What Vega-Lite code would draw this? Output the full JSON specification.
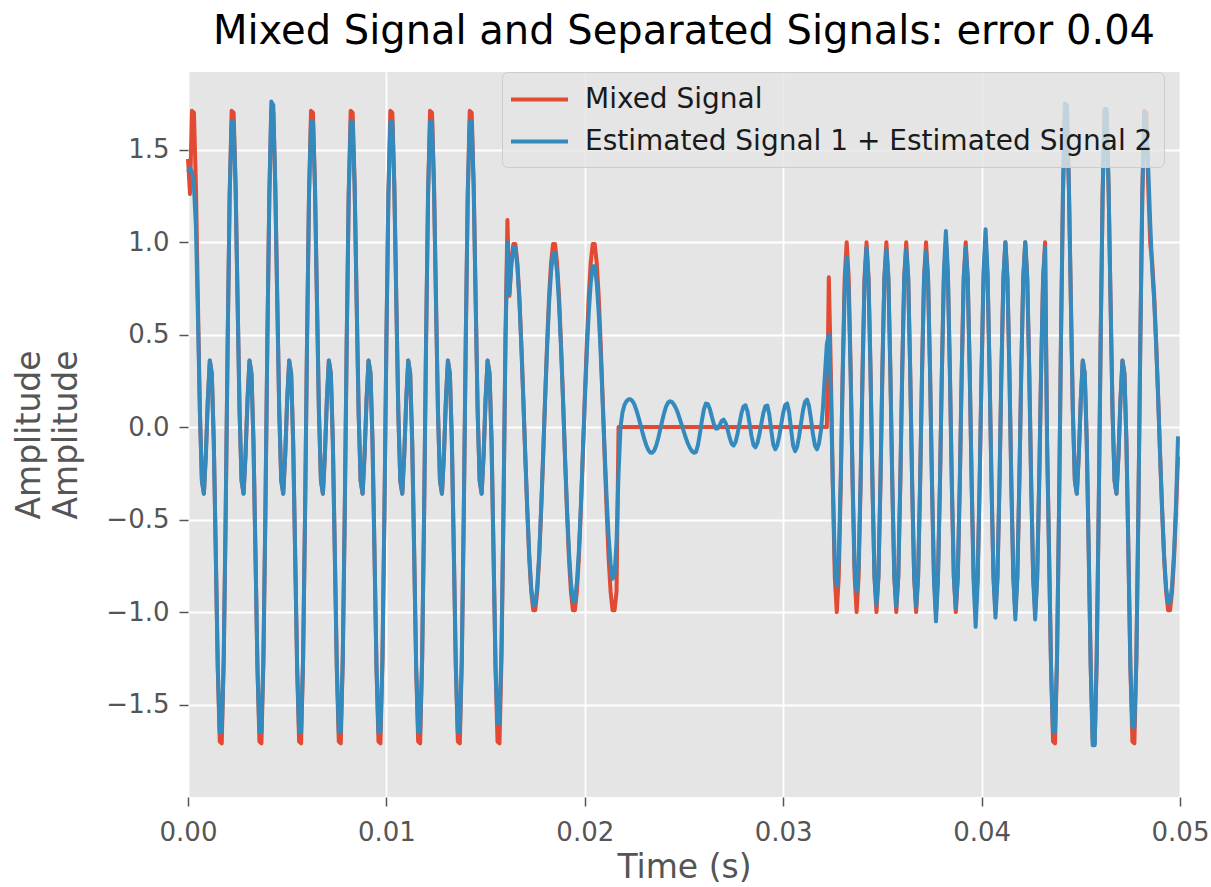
{
"$schema":"https://vega.github.io/schema/vega-lite/v6.json",
"width":992,"height":725,
"autosize":{"type":"none"},
"padding":{"left":188,"top":72,"right":31,"bottom":90},
"background":"#FFFFFF",
"title":{"text":"Mixed Signal and Separated Signals: error 0.04","fontSize":40,"font":"DejaVu Sans","fontWeight":"normal","color":"#000000","offset":20,"anchor":"middle","frame":"group"},
"config":{"view":{"fill":"#E5E5E5","stroke":null},"font":"DejaVu Sans",
"axis":{"labelFont":"DejaVu Sans","labelFontSize":26,"labelColor":"#555555","tickColor":"#555555","tickSize":9,"tickWidth":1.5,"domain":false,"gridColor":"#FFFFFF","gridWidth":1.8,"gridOpacity":1,"titleFont":"DejaVu Sans","titleFontSize":33,"titleColor":"#555555","titleFontWeight":"normal"}},
"data":{"values":[
{"t":0,"m":1.45,"e":1.38},{"t":0.0001,"m":1.26,"e":1.4},{"t":0.0002,"m":1.71,"e":1.38},{"t":0.0003,"m":1.7,"e":1.3},{"t":0.0004,"m":1.3,"e":1.08},{"t":0.0005,"m":0.68,"e":0.6},{"t":0.0006,"m":0.08,"e":0.08},{"t":0.0007,"m":-0.29,"e":-0.29},{"t":0.0008,"m":-0.36,"e":-0.36},{"t":0.0009,"m":-0.15,"e":-0.15},
{"t":0.001,"m":0.15,"e":0.15},{"t":0.0011,"m":0.36,"e":0.36},{"t":0.0012,"m":0.29,"e":0.29},{"t":0.0013,"m":-0.08,"e":-0.08},{"t":0.0014,"m":-0.68,"e":-0.68},{"t":0.0015,"m":-1.3,"e":-1.3},{"t":0.0016,"m":-1.7,"e":-1.65},{"t":0.0017,"m":-1.71,"e":-1.65},{"t":0.0018,"m":-1.26,"e":-1.26},{"t":0.0019,"m":-0.47,"e":-0.47},
{"t":0.002,"m":0.47,"e":0.47},{"t":0.0021,"m":1.26,"e":1.26},{"t":0.0022,"m":1.71,"e":1.65},{"t":0.0023,"m":1.7,"e":1.65},{"t":0.0024,"m":1.3,"e":1.3},{"t":0.0025,"m":0.68,"e":0.68},{"t":0.0026,"m":0.08,"e":0.08},{"t":0.0027,"m":-0.29,"e":-0.29},{"t":0.0028,"m":-0.36,"e":-0.36},{"t":0.0029,"m":-0.15,"e":-0.15},
{"t":0.003,"m":0.15,"e":0.15},{"t":0.0031,"m":0.36,"e":0.36},{"t":0.0032,"m":0.29,"e":0.29},{"t":0.0033,"m":-0.08,"e":-0.08},{"t":0.0034,"m":-0.68,"e":-0.68},{"t":0.0035,"m":-1.3,"e":-1.3},{"t":0.0036,"m":-1.7,"e":-1.65},{"t":0.0037,"m":-1.71,"e":-1.65},{"t":0.0038,"m":-1.26,"e":-1.26},{"t":0.0039,"m":-0.47,"e":-0.47},
{"t":0.004,"m":0.47,"e":0.47},{"t":0.0041,"m":1.26,"e":1.26},{"t":0.0042,"m":1.71,"e":1.76},{"t":0.0043,"m":1.7,"e":1.74},{"t":0.0044,"m":1.3,"e":1.3},{"t":0.0045,"m":0.68,"e":0.68},{"t":0.0046,"m":0.08,"e":0.08},{"t":0.0047,"m":-0.29,"e":-0.29},{"t":0.0048,"m":-0.36,"e":-0.36},{"t":0.0049,"m":-0.15,"e":-0.15},
{"t":0.005,"m":0.15,"e":0.15},{"t":0.0051,"m":0.36,"e":0.36},{"t":0.0052,"m":0.29,"e":0.29},{"t":0.0053,"m":-0.08,"e":-0.08},{"t":0.0054,"m":-0.68,"e":-0.68},{"t":0.0055,"m":-1.3,"e":-1.3},{"t":0.0056,"m":-1.7,"e":-1.65},{"t":0.0057,"m":-1.71,"e":-1.65},{"t":0.0058,"m":-1.26,"e":-1.26},{"t":0.0059,"m":-0.47,"e":-0.47},
{"t":0.006,"m":0.47,"e":0.47},{"t":0.0061,"m":1.26,"e":1.26},{"t":0.0062,"m":1.71,"e":1.65},{"t":0.0063,"m":1.7,"e":1.65},{"t":0.0064,"m":1.3,"e":1.3},{"t":0.0065,"m":0.68,"e":0.68},{"t":0.0066,"m":0.08,"e":0.08},{"t":0.0067,"m":-0.29,"e":-0.29},{"t":0.0068,"m":-0.36,"e":-0.36},{"t":0.0069,"m":-0.15,"e":-0.15},
{"t":0.007,"m":0.15,"e":0.15},{"t":0.0071,"m":0.36,"e":0.36},{"t":0.0072,"m":0.29,"e":0.29},{"t":0.0073,"m":-0.08,"e":-0.08},{"t":0.0074,"m":-0.68,"e":-0.68},{"t":0.0075,"m":-1.3,"e":-1.3},{"t":0.0076,"m":-1.7,"e":-1.65},{"t":0.0077,"m":-1.71,"e":-1.65},{"t":0.0078,"m":-1.26,"e":-1.26},{"t":0.0079,"m":-0.47,"e":-0.47},
{"t":0.008,"m":0.47,"e":0.47},{"t":0.0081,"m":1.26,"e":1.26},{"t":0.0082,"m":1.71,"e":1.65},{"t":0.0083,"m":1.7,"e":1.65},{"t":0.0084,"m":1.3,"e":1.3},{"t":0.0085,"m":0.68,"e":0.68},{"t":0.0086,"m":0.08,"e":0.08},{"t":0.0087,"m":-0.29,"e":-0.29},{"t":0.0088,"m":-0.36,"e":-0.36},{"t":0.0089,"m":-0.15,"e":-0.15},
{"t":0.009,"m":0.15,"e":0.15},{"t":0.0091,"m":0.36,"e":0.36},{"t":0.0092,"m":0.29,"e":0.29},{"t":0.0093,"m":-0.08,"e":-0.08},{"t":0.0094,"m":-0.68,"e":-0.68},{"t":0.0095,"m":-1.3,"e":-1.3},{"t":0.0096,"m":-1.7,"e":-1.65},{"t":0.0097,"m":-1.71,"e":-1.65},{"t":0.0098,"m":-1.26,"e":-1.26},{"t":0.0099,"m":-0.47,"e":-0.47},
{"t":0.01,"m":0.47,"e":0.47},{"t":0.0101,"m":1.26,"e":1.26},{"t":0.0102,"m":1.71,"e":1.65},{"t":0.0103,"m":1.7,"e":1.65},{"t":0.0104,"m":1.3,"e":1.3},{"t":0.0105,"m":0.68,"e":0.68},{"t":0.0106,"m":0.08,"e":0.08},{"t":0.0107,"m":-0.29,"e":-0.29},{"t":0.0108,"m":-0.36,"e":-0.36},{"t":0.0109,"m":-0.15,"e":-0.15},
{"t":0.011,"m":0.15,"e":0.15},{"t":0.0111,"m":0.36,"e":0.36},{"t":0.0112,"m":0.29,"e":0.29},{"t":0.0113,"m":-0.08,"e":-0.08},{"t":0.0114,"m":-0.68,"e":-0.68},{"t":0.0115,"m":-1.3,"e":-1.3},{"t":0.0116,"m":-1.7,"e":-1.65},{"t":0.0117,"m":-1.71,"e":-1.65},{"t":0.0118,"m":-1.26,"e":-1.26},{"t":0.0119,"m":-0.47,"e":-0.47},
{"t":0.012,"m":0.47,"e":0.47},{"t":0.0121,"m":1.26,"e":1.26},{"t":0.0122,"m":1.71,"e":1.65},{"t":0.0123,"m":1.7,"e":1.65},{"t":0.0124,"m":1.3,"e":1.3},{"t":0.0125,"m":0.68,"e":0.68},{"t":0.0126,"m":0.08,"e":0.08},{"t":0.0127,"m":-0.29,"e":-0.29},{"t":0.0128,"m":-0.36,"e":-0.36},{"t":0.0129,"m":-0.15,"e":-0.15},
{"t":0.013,"m":0.15,"e":0.15},{"t":0.0131,"m":0.36,"e":0.36},{"t":0.0132,"m":0.29,"e":0.29},{"t":0.0133,"m":-0.08,"e":-0.08},{"t":0.0134,"m":-0.68,"e":-0.68},{"t":0.0135,"m":-1.3,"e":-1.3},{"t":0.0136,"m":-1.7,"e":-1.65},{"t":0.0137,"m":-1.71,"e":-1.65},{"t":0.0138,"m":-1.26,"e":-1.26},{"t":0.0139,"m":-0.47,"e":-0.47},
{"t":0.014,"m":0.47,"e":0.47},{"t":0.0141,"m":1.26,"e":1.26},{"t":0.0142,"m":1.71,"e":1.65},{"t":0.0143,"m":1.7,"e":1.65},{"t":0.0144,"m":1.3,"e":1.3},{"t":0.0145,"m":0.68,"e":0.68},{"t":0.0146,"m":0.08,"e":0.08},{"t":0.0147,"m":-0.29,"e":-0.29},{"t":0.0148,"m":-0.36,"e":-0.36},{"t":0.0149,"m":-0.15,"e":-0.15},
{"t":0.015,"m":0.15,"e":0.15},{"t":0.0151,"m":0.36,"e":0.36},{"t":0.0152,"m":0.29,"e":0.29},{"t":0.0153,"m":-0.08,"e":-0.08},{"t":0.0154,"m":-0.68,"e":-0.68},{"t":0.0155,"m":-1.3,"e":-1.3},{"t":0.0156,"m":-1.7,"e":-1.6},{"t":0.0157,"m":-1.71,"e":-1.6},{"t":0.0158,"m":-1.26,"e":-1.2},{"t":0.0159,"m":-0.47,"e":-0.45},
{"t":0.016,"m":0.47,"e":0.45},{"t":0.0161,"m":1.12,"e":1.0},{"t":0.0162,"m":0.71,"e":0.72},{"t":0.0163,"m":0.89,"e":0.88},{"t":0.0164,"m":0.99,"e":0.97},{"t":0.0165,"m":0.99,"e":0.97},{"t":0.0166,"m":0.89,"e":0.87},{"t":0.0167,"m":0.71,"e":0.69},{"t":0.0168,"m":0.45,"e":0.44},{"t":0.0169,"m":0.16,"e":0.15},
{"t":0.017,"m":-0.16,"e":-0.15},{"t":0.0171,"m":-0.45,"e":-0.44},{"t":0.0172,"m":-0.71,"e":-0.69},{"t":0.0173,"m":-0.89,"e":-0.87},{"t":0.0174,"m":-0.99,"e":-0.96},{"t":0.0175,"m":-0.99,"e":-0.96},{"t":0.0176,"m":-0.89,"e":-0.87},{"t":0.0177,"m":-0.71,"e":-0.69},{"t":0.0178,"m":-0.45,"e":-0.44},{"t":0.0179,"m":-0.16,"e":-0.15},
{"t":0.018,"m":0.16,"e":0.15},{"t":0.0181,"m":0.45,"e":0.43},{"t":0.0182,"m":0.71,"e":0.67},{"t":0.0183,"m":0.89,"e":0.84},{"t":0.0184,"m":0.99,"e":0.94},{"t":0.0185,"m":0.99,"e":0.94},{"t":0.0186,"m":0.89,"e":0.84},{"t":0.0187,"m":0.71,"e":0.67},{"t":0.0188,"m":0.45,"e":0.43},{"t":0.0189,"m":0.16,"e":0.15},
{"t":0.019,"m":-0.16,"e":-0.15},{"t":0.0191,"m":-0.45,"e":-0.43},{"t":0.0192,"m":-0.71,"e":-0.67},{"t":0.0193,"m":-0.89,"e":-0.84},{"t":0.0194,"m":-0.99,"e":-0.94},{"t":0.0195,"m":-0.99,"e":-0.94},{"t":0.0196,"m":-0.89,"e":-0.84},{"t":0.0197,"m":-0.71,"e":-0.67},{"t":0.0198,"m":-0.45,"e":-0.43},{"t":0.0199,"m":-0.16,"e":-0.14},
{"t":0.02,"m":0.16,"e":0.14},{"t":0.0201,"m":0.45,"e":0.4},{"t":0.0202,"m":0.71,"e":0.62},{"t":0.0203,"m":0.89,"e":0.78},{"t":0.0204,"m":0.99,"e":0.87},{"t":0.0205,"m":0.99,"e":0.87},{"t":0.0206,"m":0.89,"e":0.78},{"t":0.0207,"m":0.71,"e":0.62},{"t":0.0208,"m":0.45,"e":0.4},{"t":0.0209,"m":0.16,"e":0.13},
{"t":0.021,"m":-0.16,"e":-0.13},{"t":0.0211,"m":-0.45,"e":-0.38},{"t":0.0212,"m":-0.71,"e":-0.59},{"t":0.0213,"m":-0.89,"e":-0.74},{"t":0.0214,"m":-0.99,"e":-0.82},{"t":0.0215,"m":-0.99,"e":-0.8},{"t":0.0216,"m":-0.89,"e":-0.62},{"t":0.0217,"m":0,"e":-0.25},{"t":0.0218,"m":0,"e":0},{"t":0.0219,"m":0,"e":0.08},
{"t":0.022,"m":0,"e":0.12},{"t":0.0221,"m":0,"e":0.14},{"t":0.0222,"m":0,"e":0.15},{"t":0.0223,"m":0,"e":0.15},{"t":0.0224,"m":0,"e":0.141},{"t":0.0225,"m":0,"e":0.122},{"t":0.0226,"m":0,"e":0.092},{"t":0.0227,"m":0,"e":0.056},{"t":0.0228,"m":0,"e":0.015},{"t":0.0229,"m":0,"e":-0.026},
{"t":0.023,"m":0,"e":-0.065},{"t":0.0231,"m":0,"e":-0.098},{"t":0.0232,"m":0,"e":-0.123},{"t":0.0233,"m":0,"e":-0.137},{"t":0.0234,"m":0,"e":-0.139},{"t":0.0235,"m":0,"e":-0.126},{"t":0.0236,"m":0,"e":-0.099},{"t":0.0237,"m":0,"e":-0.06},{"t":0.0238,"m":0,"e":-0.014},{"t":0.0239,"m":0,"e":0.033},
{"t":0.024,"m":0,"e":0.077},{"t":0.0241,"m":0,"e":0.112},{"t":0.0242,"m":0,"e":0.133},{"t":0.0243,"m":0,"e":0.14},{"t":0.0244,"m":0,"e":0.135},{"t":0.0245,"m":0,"e":0.121},{"t":0.0246,"m":0,"e":0.1},{"t":0.0247,"m":0,"e":0.073},{"t":0.0248,"m":0,"e":0.041},{"t":0.0249,"m":0,"e":0.007},
{"t":0.025,"m":0,"e":-0.028},{"t":0.0251,"m":0,"e":-0.061},{"t":0.0252,"m":0,"e":-0.09},{"t":0.0253,"m":0,"e":-0.113},{"t":0.0254,"m":0,"e":-0.13},{"t":0.0255,"m":0,"e":-0.139},{"t":0.0256,"m":0,"e":-0.135},{"t":0.0257,"m":0,"e":-0.099},{"t":0.0258,"m":0,"e":-0.037},{"t":0.0259,"m":0,"e":0.034},
{"t":0.026,"m":0,"e":0.094},{"t":0.0261,"m":0,"e":0.127},{"t":0.0262,"m":0,"e":0.125},{"t":0.0263,"m":0,"e":0.099},{"t":0.0264,"m":0,"e":0.058},{"t":0.0265,"m":0,"e":0.018},{"t":0.0266,"m":0,"e":-0.007},{"t":0.0267,"m":0,"e":-0.007},{"t":0.0268,"m":0,"e":0.011},{"t":0.0269,"m":0,"e":0.033},
{"t":0.027,"m":0,"e":0.04},{"t":0.0271,"m":0,"e":0.022},{"t":0.0272,"m":0,"e":-0.015},{"t":0.0273,"m":0,"e":-0.057},{"t":0.0274,"m":0,"e":-0.09},{"t":0.0275,"m":0,"e":-0.1},{"t":0.0276,"m":0,"e":-0.081},{"t":0.0277,"m":0,"e":-0.036},{"t":0.0278,"m":0,"e":0.022},{"t":0.0279,"m":0,"e":0.077},
{"t":0.028,"m":0,"e":0.112},{"t":0.0281,"m":0,"e":0.118},{"t":0.0282,"m":0,"e":0.085},{"t":0.0283,"m":0,"e":0.023},{"t":0.0284,"m":0,"e":-0.046},{"t":0.0285,"m":0,"e":-0.096},{"t":0.0286,"m":0,"e":-0.109},{"t":0.0287,"m":0,"e":-0.087},{"t":0.0288,"m":0,"e":-0.04},{"t":0.0289,"m":0,"e":0.02},
{"t":0.029,"m":0,"e":0.076},{"t":0.0291,"m":0,"e":0.112},{"t":0.0292,"m":0,"e":0.117},{"t":0.0293,"m":0,"e":0.068},{"t":0.0294,"m":0,"e":-0.018},{"t":0.0295,"m":0,"e":-0.094},{"t":0.0296,"m":0,"e":-0.12},{"t":0.0297,"m":0,"e":-0.099},{"t":0.0298,"m":0,"e":-0.05},{"t":0.0299,"m":0,"e":0.015},
{"t":0.03,"m":0,"e":0.077},{"t":0.0301,"m":0,"e":0.119},{"t":0.0302,"m":0,"e":0.128},{"t":0.0303,"m":0,"e":0.079},{"t":0.0304,"m":0,"e":-0.015},{"t":0.0305,"m":0,"e":-0.1},{"t":0.0306,"m":0,"e":-0.13},{"t":0.0307,"m":0,"e":-0.107},{"t":0.0308,"m":0,"e":-0.051},{"t":0.0309,"m":0,"e":0.021},
{"t":0.031,"m":0,"e":0.091},{"t":0.0311,"m":0,"e":0.137},{"t":0.0312,"m":0,"e":0.149},{"t":0.0313,"m":0,"e":0.115},{"t":0.0314,"m":0,"e":0.044},{"t":0.0315,"m":0,"e":-0.038},{"t":0.0316,"m":0,"e":-0.1},{"t":0.0317,"m":0,"e":-0.12},{"t":0.0318,"m":0,"e":-0.09},{"t":0.0319,"m":0,"e":-0.02},
{"t":0.032,"m":0,"e":0.1},{"t":0.0321,"m":0,"e":0.28},{"t":0.0322,"m":0,"e":0.45},{"t":0.0323,"m":0.81,"e":0.5},{"t":0.0324,"m":0.31,"e":0.2},{"t":0.0325,"m":-0.31,"e":-0.3},{"t":0.0326,"m":-0.81,"e":-0.72},{"t":0.0327,"m":-1,"e":-0.86},{"t":0.0328,"m":-0.81,"e":-0.72},{"t":0.0329,"m":-0.31,"e":-0.28},
{"t":0.033,"m":0.31,"e":0.28},{"t":0.0331,"m":0.81,"e":0.74},{"t":0.0332,"m":1,"e":0.92},{"t":0.0333,"m":0.81,"e":0.74},{"t":0.0334,"m":0.31,"e":0.28},{"t":0.0335,"m":-0.31,"e":-0.29},{"t":0.0336,"m":-0.81,"e":-0.76},{"t":0.0337,"m":-1,"e":-0.89},{"t":0.0338,"m":-0.81,"e":-0.76},{"t":0.0339,"m":-0.31,"e":-0.29},
{"t":0.034,"m":0.31,"e":0.29},{"t":0.0341,"m":0.81,"e":0.79},{"t":0.0342,"m":1,"e":0.97},{"t":0.0343,"m":0.81,"e":0.8},{"t":0.0344,"m":0.31,"e":0.31},{"t":0.0345,"m":-0.31,"e":-0.31},{"t":0.0346,"m":-0.81,"e":-0.81},{"t":0.0347,"m":-1,"e":-0.96},{"t":0.0348,"m":-0.81,"e":-0.81},{"t":0.0349,"m":-0.31,"e":-0.31},
{"t":0.035,"m":0.31,"e":0.31},{"t":0.0351,"m":0.81,"e":0.81},{"t":0.0352,"m":1,"e":0.96},{"t":0.0353,"m":0.81,"e":0.81},{"t":0.0354,"m":0.31,"e":0.31},{"t":0.0355,"m":-0.31,"e":-0.31},{"t":0.0356,"m":-0.81,"e":-0.81},{"t":0.0357,"m":-1,"e":-0.97},{"t":0.0358,"m":-0.81,"e":-0.81},{"t":0.0359,"m":-0.31,"e":-0.31},
{"t":0.036,"m":0.31,"e":0.31},{"t":0.0361,"m":0.81,"e":0.81},{"t":0.0362,"m":1,"e":0.96},{"t":0.0363,"m":0.81,"e":0.81},{"t":0.0364,"m":0.31,"e":0.31},{"t":0.0365,"m":-0.31,"e":-0.31},{"t":0.0366,"m":-0.81,"e":-0.81},{"t":0.0367,"m":-1,"e":-0.97},{"t":0.0368,"m":-0.81,"e":-0.81},{"t":0.0369,"m":-0.31,"e":-0.31},
{"t":0.037,"m":0.31,"e":0.31},{"t":0.0371,"m":0.81,"e":0.81},{"t":0.0372,"m":1,"e":0.95},{"t":0.0373,"m":0.81,"e":0.81},{"t":0.0374,"m":0.31,"e":0.31},{"t":0.0375,"m":-0.31,"e":-0.31},{"t":0.0376,"m":-0.81,"e":-0.83},{"t":0.0377,"m":-1,"e":-1.05},{"t":0.0378,"m":-0.81,"e":-0.83},{"t":0.0379,"m":-0.31,"e":-0.31},
{"t":0.038,"m":0.31,"e":0.31},{"t":0.0381,"m":0.81,"e":0.84},{"t":0.0382,"m":1,"e":1.06},{"t":0.0383,"m":0.81,"e":0.84},{"t":0.0384,"m":0.31,"e":0.31},{"t":0.0385,"m":-0.31,"e":-0.31},{"t":0.0386,"m":-0.81,"e":-0.81},{"t":0.0387,"m":-1,"e":-0.98},{"t":0.0388,"m":-0.81,"e":-0.81},{"t":0.0389,"m":-0.31,"e":-0.31},
{"t":0.039,"m":0.31,"e":0.31},{"t":0.0391,"m":0.81,"e":0.81},{"t":0.0392,"m":1,"e":0.97},{"t":0.0393,"m":0.81,"e":0.81},{"t":0.0394,"m":0.31,"e":0.31},{"t":0.0395,"m":-0.31,"e":-0.31},{"t":0.0396,"m":-0.81,"e":-0.84},{"t":0.0397,"m":-1,"e":-1.08},{"t":0.0398,"m":-0.81,"e":-0.84},{"t":0.0399,"m":-0.31,"e":-0.31},
{"t":0.04,"m":0.31,"e":0.31},{"t":0.0401,"m":0.81,"e":0.84},{"t":0.0402,"m":1,"e":1.07},{"t":0.0403,"m":0.81,"e":0.84},{"t":0.0404,"m":0.31,"e":0.31},{"t":0.0405,"m":-0.31,"e":-0.31},{"t":0.0406,"m":-0.81,"e":-0.82},{"t":0.0407,"m":-1,"e":-1.03},{"t":0.0408,"m":-0.81,"e":-0.82},{"t":0.0409,"m":-0.31,"e":-0.31},
{"t":0.041,"m":0.31,"e":0.31},{"t":0.0411,"m":0.81,"e":0.81},{"t":0.0412,"m":1,"e":1},{"t":0.0413,"m":0.81,"e":0.81},{"t":0.0414,"m":0.31,"e":0.31},{"t":0.0415,"m":-0.31,"e":-0.31},{"t":0.0416,"m":-0.81,"e":-0.82},{"t":0.0417,"m":-1,"e":-1.04},{"t":0.0418,"m":-0.81,"e":-0.82},{"t":0.0419,"m":-0.31,"e":-0.31},
{"t":0.042,"m":0.31,"e":0.31},{"t":0.0421,"m":0.81,"e":0.81},{"t":0.0422,"m":1,"e":1},{"t":0.0423,"m":0.81,"e":0.81},{"t":0.0424,"m":0.31,"e":0.31},{"t":0.0425,"m":-0.31,"e":-0.31},{"t":0.0426,"m":-0.81,"e":-0.82},{"t":0.0427,"m":-1,"e":-1.04},{"t":0.0428,"m":-0.81,"e":-0.82},{"t":0.0429,"m":-0.31,"e":-0.31},
{"t":0.043,"m":0.31,"e":0.31},{"t":0.0431,"m":0.81,"e":0.8},{"t":0.0432,"m":1,"e":0.97},{"t":0.0433,"m":-0.08,"e":-0.08},{"t":0.0434,"m":-0.68,"e":-0.68},{"t":0.0435,"m":-1.3,"e":-1.3},{"t":0.0436,"m":-1.7,"e":-1.65},{"t":0.0437,"m":-1.71,"e":-1.65},{"t":0.0438,"m":-1.26,"e":-1.26},{"t":0.0439,"m":-0.47,"e":-0.47},
{"t":0.044,"m":0.47,"e":0.47},{"t":0.0441,"m":1.26,"e":1.26},{"t":0.0442,"m":1.71,"e":1.75},{"t":0.0443,"m":1.7,"e":1.74},{"t":0.0444,"m":1.3,"e":1.3},{"t":0.0445,"m":0.68,"e":0.68},{"t":0.0446,"m":0.08,"e":0.08},{"t":0.0447,"m":-0.29,"e":-0.29},{"t":0.0448,"m":-0.36,"e":-0.36},{"t":0.0449,"m":-0.15,"e":-0.15},
{"t":0.045,"m":0.15,"e":0.15},{"t":0.0451,"m":0.36,"e":0.36},{"t":0.0452,"m":0.29,"e":0.29},{"t":0.0453,"m":-0.08,"e":-0.08},{"t":0.0454,"m":-0.68,"e":-0.68},{"t":0.0455,"m":-1.3,"e":-1.3},{"t":0.0456,"m":-1.7,"e":-1.72},{"t":0.0457,"m":-1.71,"e":-1.72},{"t":0.0458,"m":-1.26,"e":-1.26},{"t":0.0459,"m":-0.47,"e":-0.47},
{"t":0.046,"m":0.47,"e":0.47},{"t":0.0461,"m":1.26,"e":1.26},{"t":0.0462,"m":1.71,"e":1.72},{"t":0.0463,"m":1.7,"e":1.72},{"t":0.0464,"m":1.3,"e":1.3},{"t":0.0465,"m":0.68,"e":0.68},{"t":0.0466,"m":0.08,"e":0.08},{"t":0.0467,"m":-0.29,"e":-0.29},{"t":0.0468,"m":-0.36,"e":-0.36},{"t":0.0469,"m":-0.15,"e":-0.15},
{"t":0.047,"m":0.15,"e":0.15},{"t":0.0471,"m":0.36,"e":0.36},{"t":0.0472,"m":0.29,"e":0.29},{"t":0.0473,"m":-0.08,"e":-0.08},{"t":0.0474,"m":-0.68,"e":-0.68},{"t":0.0475,"m":-1.3,"e":-1.3},{"t":0.0476,"m":-1.7,"e":-1.62},{"t":0.0477,"m":-1.71,"e":-1.62},{"t":0.0478,"m":-1.26,"e":-1.26},{"t":0.0479,"m":-0.47,"e":-0.47},
{"t":0.048,"m":0.47,"e":0.47},{"t":0.0481,"m":1.26,"e":1.26},{"t":0.0482,"m":1.71,"e":1.7},{"t":0.0483,"m":1.7,"e":1.62},{"t":0.0484,"m":1.3,"e":1.4},{"t":0.0485,"m":0.99,"e":1.1},{"t":0.0486,"m":0.89,"e":0.85},{"t":0.0487,"m":0.71,"e":0.68},{"t":0.0488,"m":0.45,"e":0.44},{"t":0.0489,"m":0.16,"e":0.15},
{"t":0.049,"m":-0.16,"e":-0.16},{"t":0.0491,"m":-0.45,"e":-0.45},{"t":0.0492,"m":-0.71,"e":-0.7},{"t":0.0493,"m":-0.89,"e":-0.87},{"t":0.0494,"m":-0.99,"e":-0.95},{"t":0.0495,"m":-0.99,"e":-0.95},{"t":0.0496,"m":-0.89,"e":-0.86},{"t":0.0497,"m":-0.71,"e":-0.68},{"t":0.0498,"m":-0.45,"e":-0.42},{"t":0.0499,"m":-0.16,"e":-0.05}
]},
"encoding":{"x":{"field":"t","type":"quantitative","scale":{"domain":[0,0.05],"nice":false,"zero":false},"axis":{"title":"Time (s)","values":[0,0.01,0.02,0.03,0.04,0.05],"format":".2f","grid":true,"labelPadding":13,"titlePadding":6,"labelFlush":false}}},
"layer":[
{"mark":{"type":"line","strokeWidth":4,"strokeJoin":"round"},
"encoding":{"y":{"field":"m","type":"quantitative","scale":{"domain":[-2.0,1.92],"nice":false,"zero":false},"axis":{"title":"Amplitude","values":[-1.5,-1,-0.5,0,0.5,1,1.5],"format":".1f","grid":true,"labelPadding":10,"titlePadding":22}},
"color":{"datum":"Mixed Signal","type":"nominal","scale":{"domain":["Mixed Signal","Estimated Signal 1 + Estimated Signal 2"],"range":["#E24A33","#348ABD"]},
"legend":{"title":null,"orient":"none","legendX":314,"legendY":0,"symbolType":"M-2,0H2","symbolSize":812,"symbolStrokeWidth":4,"symbolOffset":10,"labelFont":"DejaVu Sans","labelFontSize":28,"labelColor":"#1a1a1a","labelOffset":29,"labelLimit":0,"fillColor":"rgba(229,229,229,0.8)","strokeColor":"#CCCCCC","cornerRadius":6,"padding":11,"rowPadding":11}}}},
{"mark":{"type":"line","strokeWidth":4,"strokeJoin":"round"},
"encoding":{"y":{"field":"e","type":"quantitative","scale":{"domain":[-2.0,1.92],"nice":false,"zero":false},"axis":{"orient":"left","title":"Amplitude","labels":false,"ticks":false,"domain":false,"grid":false,"titlePadding":142}},
"color":{"datum":"Estimated Signal 1 + Estimated Signal 2","type":"nominal"}}}
],
"resolve":{"scale":{"y":"independent"}}
}
